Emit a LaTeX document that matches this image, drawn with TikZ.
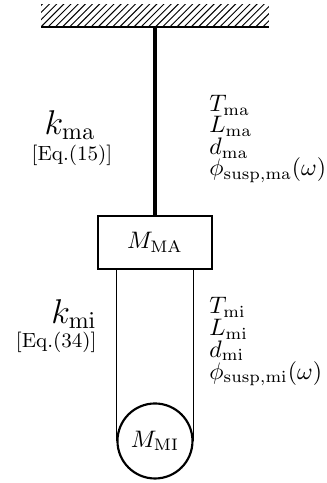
\documentclass[tikz,border=0pt]{standalone}
\usepackage{amsmath}
\usepackage{amssymb}
\usetikzlibrary{patterns}
\begin{document}
\begin{tikzpicture}
\tikzstyle{fil}=[thin]
\tikzstyle{tige}=[line width=1.5pt]
\tikzset{masse/.style={draw,line width=0.9pt,minimum width=1.679cm,minimum height=0.781cm,inner sep=0pt},
boule/.style={draw,line width=0.9pt,circle,minimum size=1.105cm,inner sep=0pt},
param/.style={anchor=base west,inner sep=0pt},
raideur/.style={font=\Large,inner sep=0pt},
renvoi/.style={font=\fontsize{8.6}{10}\selectfont,inner sep=0pt}}
\useasboundingbox (0,0) rectangle (4.817,-7.115);

% plafond
\fill[pattern=north east lines] (0.604,-0.059) rectangle (3.962,-0.398);
\coordinate (P1) at (0.604,-0.398);
\coordinate (P2) at (3.962,-0.398);
\draw[thick] (P1) -- (P2);
\coordinate (P) at (2.283,-0.398);

% masses
\node[masse] (MA) at (2.283,-3.572){$M_{\mathrm{MA}}$};
\node[boule] (MI) at (2.283,-6.496){$M_{\mathrm{MI}}$};

\draw[tige] (P) -- (MA.north);
\draw[fil] (MI.west) -- (MI.west |- MA.south);
\draw[fil] (MI.east) -- (MI.east |- MA.south);

% etage superieur
\node[raideur,anchor=base] (Kma) at (1.031,-1.975){$k_{\mathrm{ma}}$};
\node[renvoi,anchor=base] (Ema) at (1.061,-2.362){[Eq.(15)]};
\node[param] (Tma) at (3.079,-1.642){$T_{\mathrm{ma}}$};
\node[param] (Lma) at (3.079,-1.959){$L_{\mathrm{ma}}$};
\node[param] (dma) at (3.079,-2.276){$d_{\mathrm{ma}}$};
\node[param] (pma) at (3.079,-2.592){$\phi_{\mathrm{susp,ma}}(\omega)$};

% etage inferieur
\node[raideur,anchor=base east] (Kmi) at (1.429,-4.758){$k_{\mathrm{mi}}$};
\node[renvoi,anchor=base east] (Emi) at (1.429,-5.126){[Eq.(34)]};
\node[param] (Tmi) at (3.079,-4.625){$T_{\mathrm{mi}}$};
\node[param] (Lmi) at (3.079,-4.945){$L_{\mathrm{mi}}$};
\node[param] (dmi) at (3.079,-5.263){$d_{\mathrm{mi}}$};
\node[param] (pmi) at (3.079,-5.583){$\phi_{\mathrm{susp,mi}}(\omega)$};
\end{tikzpicture}
\end{document}
